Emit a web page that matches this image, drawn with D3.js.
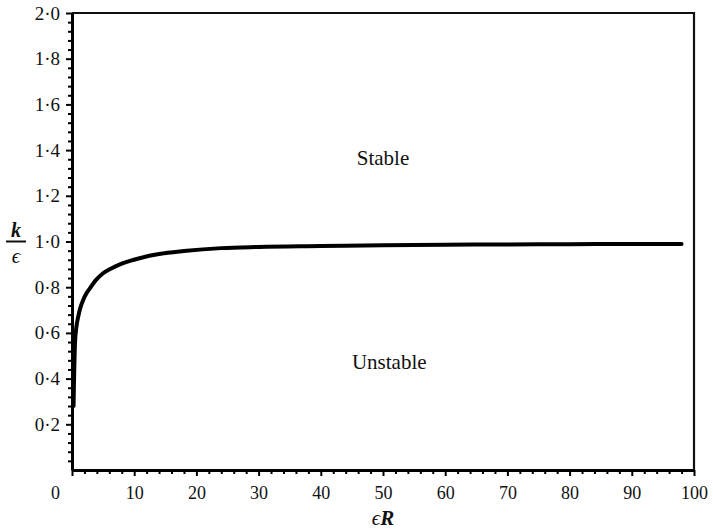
<!DOCTYPE html>
<html>
<head>
<meta charset="utf-8">
<script src="https://cdn.jsdelivr.net/npm/d3@7"></script>
<style>
  body { margin: 0; background: #fff; }
  text { font-family: "Liberation Serif", "DejaVu Serif", "Times New Roman", serif; fill: #111; }
</style>
</head>
<body>
<script>
// neutral stability curve
var eR = [0.25, 0.3, 0.38, 0.48, 0.7, 1.0, 1.4, 1.8, 2.3, 2.9, 3.8, 5.0, 6.3, 7.7, 9.3, 11, 14, 18, 24, 30, 40, 50, 60, 70, 80, 90, 98];
var kOverEps = [0.28, 0.36, 0.46, 0.555, 0.625, 0.671, 0.715, 0.744, 0.772, 0.796, 0.83, 0.861, 0.882, 0.9, 0.915, 0.928, 0.945, 0.958, 0.971, 0.976, 0.98, 0.984, 0.986, 0.987, 0.988, 0.989, 0.989];

var xMajor = [0, 10, 20, 30, 40, 50, 60, 70, 80, 90, 100];
var yMajor = [0.2, 0.4, 0.6, 0.8, 1.0, 1.2, 1.4, 1.6, 1.8, 2.0];
var regionLabels = [{text: "Stable", x: 50, y: 1.36}, {text: "Unstable", x: 51, y: 0.47}];

var width = 713, height = 529;
var margin = {top: 13, right: 19, bottom: 59, left: 72};

var svg = d3.select("body").append("svg")
    .attr("width", width)
    .attr("height", height);

var x = d3.scaleLinear().domain([0, 100]).range([margin.left, width - margin.right]);
var y = d3.scaleLinear().domain([0, 2]).range([height - margin.bottom, margin.top]);

var fmt = function(d) { return d3.format(".1f")(d).replace(".", "\u00b7"); };

// minor ticks
var xMinor = d3.range(0, 101, 2).filter(function(d) { return d % 10 !== 0; });
var yMinor = d3.range(0, 51).map(function(i) { return i * 0.04; })
    .filter(function(d) { return Math.abs(d / 0.2 - Math.round(d / 0.2)) > 1e-6; });

svg.append("g")
    .attr("transform", "translate(0," + y(0) + ")")
    .call(d3.axisBottom(x).tickValues(xMinor).tickSize(4).tickFormat(""))
    .call(function(g) { g.select(".domain").remove(); g.selectAll("line").attr("stroke-width", 2); });

svg.append("g")
    .attr("transform", "translate(" + x(0) + ",0)")
    .call(d3.axisLeft(y).tickValues(yMinor).tickSize(4).tickFormat(""))
    .call(function(g) { g.select(".domain").remove(); g.selectAll("line").attr("stroke-width", 2); });

// major axes
var xAxis = svg.append("g")
    .attr("transform", "translate(0," + y(0) + ")")
    .call(d3.axisBottom(x).tickValues(xMajor).tickSize(6).tickPadding(10).tickSizeOuter(0).tickFormat(d3.format("d")));
xAxis.select(".domain").attr("stroke-width", 3);
xAxis.selectAll("line").attr("stroke-width", 2);
xAxis.selectAll("text").attr("font-size", 18).attr("font-family", "Liberation Serif")
    .filter(function(d) { return d === 0; }).attr("dx", -17);

var yAxis = svg.append("g")
    .attr("transform", "translate(" + x(0) + ",0)")
    .call(d3.axisLeft(y).tickValues(yMajor).tickSize(6).tickPadding(6).tickSizeOuter(0).tickFormat(fmt));
yAxis.select(".domain").attr("stroke-width", 3);
yAxis.selectAll("line").attr("stroke-width", 2);
yAxis.selectAll("text").attr("font-size", 19).attr("font-family", "Liberation Serif");

// frame top and right
svg.append("path")
    .attr("d", "M" + x(0) + "," + y(2) + "H" + x(100) + "V" + y(0))
    .attr("fill", "none")
    .attr("stroke", "#111")
    .attr("stroke-width", 2.2);

// curve
var line = d3.line()
    .x(function(d, i) { return x(eR[i]); })
    .y(function(d) { return y(d); })
    .curve(d3.curveMonotoneX);

svg.append("path")
    .datum(kOverEps)
    .attr("d", line)
    .attr("fill", "none")
    .attr("stroke", "#000")
    .attr("stroke-width", 4)
    .attr("stroke-linecap", "round");

// region labels
svg.selectAll(".region")
    .data(regionLabels)
  .enter().append("text")
    .attr("class", "region")
    .attr("x", function(d) { return x(d.x); })
    .attr("y", function(d) { return y(d.y) + 6; })
    .attr("text-anchor", "middle")
    .attr("font-size", 21)
    .text(function(d) { return d.text; });

// x axis title
var xt = svg.append("text")
    .attr("x", (x(0) + x(100)) / 2)
    .attr("y", 525)
    .attr("text-anchor", "middle")
    .attr("font-size", 21)
    .attr("font-style", "italic");
xt.append("tspan").text("\u03f5");
xt.append("tspan").attr("font-weight", "bold").text("R");

// y axis title: k over epsilon
var yl = svg.append("g").attr("transform", "translate(16," + y(1) + ")");
yl.append("text").attr("x", 0).attr("y", -5).attr("text-anchor", "middle")
    .attr("font-size", 20).attr("font-style", "italic").attr("font-weight", "bold").text("k");
yl.append("line").attr("x1", -10).attr("x2", 10).attr("y1", 0).attr("y2", 0)
    .attr("stroke", "#111").attr("stroke-width", 2);
yl.append("text").attr("x", 0).attr("y", 21).attr("text-anchor", "middle")
    .attr("font-size", 21).attr("font-style", "italic").text("\u03f5");
</script>
</body>
</html>
